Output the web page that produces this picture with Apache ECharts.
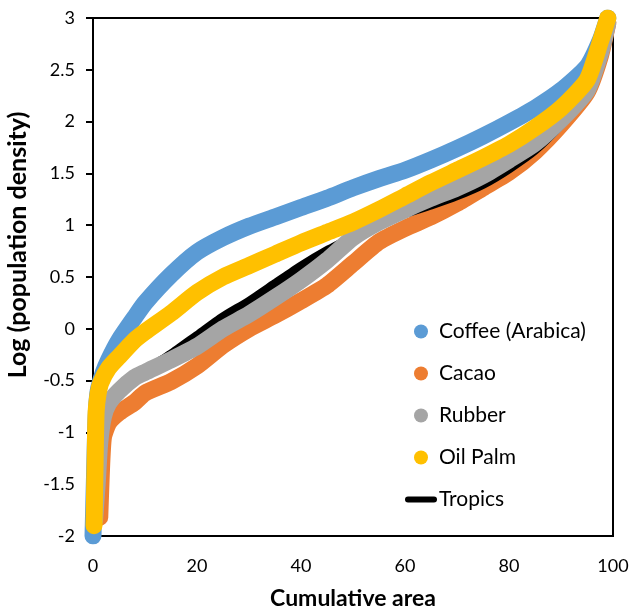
<!DOCTYPE html>
<html>
<head>
<meta charset="utf-8">
<script src="https://cdn.jsdelivr.net/npm/echarts@6/dist/echarts.min.js"></script>
<style>
  html, body { margin: 0; padding: 0; background: #fff; }
  #chart { width: 632px; height: 613px; }
</style>
</head>
<body>
<div id="chart"></div>
<script>
// values (x = cumulative area, y = log population density)
const coffeeX = [0, 0.3, 0.6, 1, 2, 3, 5, 8, 10, 15, 20, 25, 30, 35, 40, 45, 50, 55, 60, 65, 70, 75, 80, 85, 90, 95, 97.5, 99]
const coffeeY = [-2, -1.4, -0.85, -0.6, -0.42, -0.3, -0.11, 0.11, 0.25, 0.52, 0.74, 0.88, 0.99, 1.08, 1.17, 1.26, 1.36, 1.45, 1.53, 1.63, 1.74, 1.86, 1.99, 2.13, 2.3, 2.53, 2.78, 3.0]

const cacaoX = [1.3, 1.6, 2, 3, 5, 8, 10, 15, 20, 25, 30, 35, 40, 45, 50, 55, 60, 65, 70, 75, 80, 85, 90, 95, 97.5, 99]
const cacaoY = [-1.82, -1.4, -1.05, -0.91, -0.81, -0.71, -0.62, -0.51, -0.36, -0.16, 0.0, 0.13, 0.27, 0.42, 0.63, 0.84, 0.97, 1.08, 1.21, 1.36, 1.51, 1.71, 1.97, 2.28, 2.62, 2.95]

const rubberX = [0.3, 0.8, 1.3, 2, 3, 5, 8, 10, 15, 20, 25, 30, 35, 40, 45, 50, 55, 60, 65, 70, 75, 80, 85, 90, 95, 97.5, 99]
const rubberY = [-1.85, -1.5, -1.1, -0.85, -0.72, -0.6, -0.47, -0.42, -0.3, -0.17, 0.0, 0.14, 0.3, 0.47, 0.66, 0.88, 1.03, 1.15, 1.26, 1.36, 1.48, 1.63, 1.79, 2.02, 2.3, 2.65, 2.95]

const palmX = [0.2, 0.4, 0.6, 1, 1.5, 3, 5, 8, 10, 15, 20, 25, 30, 35, 40, 45, 50, 55, 60, 65, 70, 75, 80, 85, 90, 95, 97.5, 99]
const palmY = [-1.9, -1.3, -0.8, -0.62, -0.52, -0.38, -0.27, -0.11, -0.03, 0.15, 0.35, 0.5, 0.61, 0.72, 0.83, 0.93, 1.03, 1.15, 1.28, 1.41, 1.53, 1.65, 1.78, 1.94, 2.13, 2.4, 2.76, 3.0]

const tropicsX = [0.3, 0.8, 1.3, 2, 3, 5, 8, 10, 15, 20, 25, 30, 35, 40, 45, 50, 55, 60, 65, 70, 75, 80, 85, 90, 95, 97.5, 99]
const tropicsY = [-1.85, -1.5, -1.1, -0.85, -0.72, -0.6, -0.47, -0.41, -0.25, -0.07, 0.11, 0.26, 0.43, 0.6, 0.75, 0.88, 1.03, 1.12, 1.2, 1.29, 1.4, 1.55, 1.73, 1.98, 2.28, 2.62, 2.95]

const seriesNames = ['Coffee (Arabica)', 'Cacao', 'Rubber', 'Oil Palm', 'Tropics']
const colors = ['#5B9BD5', '#ED7D31', '#A5A5A5', '#FFC000', '#000000']

const FONT = 'Lato, "Liberation Sans", sans-serif'

function pairs(xs, ys) {
  return xs.map((x, i) => [x, ys[i]])
}

function curve(name, xs, ys, color, width) {
  return {
    type: 'line',
    name: name,
    data: pairs(xs, ys),
    showSymbol: false,
    smooth: 0.2,
    color: color,
    lineStyle: { width: width, color: color, cap: 'round', join: 'round' },
    emphasis: { disabled: true }
  }
}

const chart = echarts.init(document.getElementById('chart'))
chart.setOption({
  animation: false,
  grid: {
    left: 93,
    right: 19,
    top: 18,
    bottom: 77,
    outerBoundsMode: 'none',
    containLabel: false,
    show: true,
    borderColor: '#000',
    borderWidth: 2
  },
  legend: {
    orient: 'vertical',
    left: 400,
    top: 316,
    itemWidth: 32,
    itemHeight: 14,
    itemGap: 21,
    selectedMode: false,
    textStyle: { fontFamily: FONT, fontSize: 21, color: '#000', padding: [0, 0, 0, -3] },
    data: [
      { name: seriesNames[0], icon: 'circle' },
      { name: seriesNames[1], icon: 'circle' },
      { name: seriesNames[2], icon: 'circle' },
      { name: seriesNames[3], icon: 'circle' },
      { name: seriesNames[4], icon: 'path://M3,0 L29,0 A3,3 0 0 1 29,6 L3,6 A3,3 0 0 1 3,0 Z' }
    ]
  },
  xAxis: {
    type: 'value',
    min: 0,
    max: 100,
    interval: 20,
    name: 'Cumulative area',
    nameLocation: 'middle',
    nameGap: 51,
    nameTextStyle: { fontFamily: FONT, fontSize: 23, fontWeight: 'bold', color: '#000' },
    axisLine: { show: true, onZero: false, lineStyle: { color: '#000', width: 2 } },
    axisTick: { show: false },
    splitLine: { show: false },
    axisLabel: { margin: 21, fontFamily: FONT, fontSize: 18, color: '#000' }
  },
  yAxis: {
    type: 'value',
    min: -2,
    max: 3,
    interval: 0.5,
    axisLine: { show: true, onZero: false, lineStyle: { color: '#000', width: 2 } },
    axisTick: { show: true, inside: false, length: 7, lineStyle: { color: '#000', width: 2 } },
    splitLine: { show: false },
    axisLabel: { margin: 18, fontFamily: FONT, fontSize: 18, color: '#000' }
  },
  graphic: [
    {
      type: 'text',
      x: 18,
      y: 245,
      rotation: Math.PI / 2,
      style: {
        text: 'Log (population density)',
        font: 'bold 25px ' + FONT,
        fill: '#000',
        textAlign: 'center',
        textVerticalAlign: 'middle'
      }
    }
  ],
  series: [
    curve(seriesNames[0], coffeeX, coffeeY, colors[0], 17),
    curve(seriesNames[1], cacaoX, cacaoY, colors[1], 17),
    curve(seriesNames[4], tropicsX, tropicsY, colors[4], 10),
    curve(seriesNames[2], rubberX, rubberY, colors[2], 17),
    curve(seriesNames[3], palmX, palmY, colors[3], 17)
  ]
})
window.addEventListener('resize', () => {
  chart.resize()
})
</script>
</body>
</html>
